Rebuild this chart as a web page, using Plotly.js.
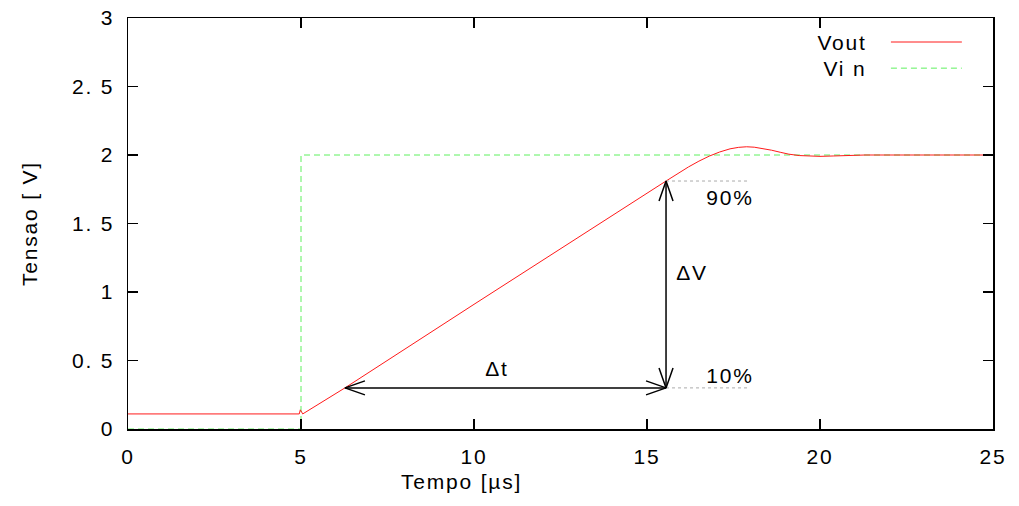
<!DOCTYPE html>
<html>
<head>
<meta charset="utf-8">
<script src="https://cdn.plot.ly/plotly-3.0.1.min.js"></script>
<style>html,body{margin:0;padding:0;background:#fff;}#chart{width:1019px;height:506px;}
#chart svg text{letter-spacing:1.8px;}</style>
</head>
<body>
<div id="chart"></div>
<script>
// ---- data ----
const voutT = [0, 4.95, 4.98, 5.03, 5.05, 6.27, 10.0, 15.55, 15.9, 16.2, 16.5, 16.8, 17.1, 17.4, 17.65, 17.88, 18.1, 18.35, 18.6, 18.85, 19.1, 19.4, 19.7, 20.0, 20.4, 20.8, 21.3, 25];
const voutV = [0.11, 0.11, 0.14, 0.11, 0.11, 0.30, 0.91, 1.81, 1.866, 1.913, 1.955, 1.992, 2.022, 2.045, 2.056, 2.06, 2.057, 2.048, 2.035, 2.02, 2.006, 1.996, 1.991, 1.99, 1.993, 1.997, 2.0, 2.0];
const vinT = [0, 5, 5, 25];
const vinV = [0, 0, 2, 2];
const xTicks = [0, 5, 10, 15, 20, 25];
const xTickText = ["0", "5", "10", "15", "20", "25"];
const yTicks = [0, 0.5, 1, 1.5, 2, 2.5, 3];
const yTickText = ["0", "0. 5", "1", "1. 5", "2", "2. 5", "3"];
const seriesNames = ["Vout", "Vi n"];
const xTitle = "Tempo [µs]";
const yTitle = "Tensao [ V]";
// rise-time markers
const tStart = 6.27, tEnd = 15.55;
const v10 = 0.30, v90 = 1.81;
const dotEnd = 17.9;
const labels = [
  {text: "90%", x: 17.4, y: 1.69},
  {text: "10%", x: 17.4, y: 0.39},
  {text: "ΔV", x: 16.3, y: 1.14},
  {text: "Δt", x: 10.66, y: 0.44}
];

// ---- geometry helpers ----
const W = 1019, H = 506;
const M = {l: 128, r: 26, t: 18, b: 77};
const xr = [0, 25], yr = [0, 3];
const pxX = (W - M.l - M.r) / (xr[1] - xr[0]);
const pxY = (H - M.t - M.b) / (yr[1] - yr[0]);
const headLen = 20, headHalf = 7;

function chevron(tipX, tipY, dirX, dirY) {
  // dir: unit direction of the arrow in screen units, y up
  const bx = -dirX * headLen, by = -dirY * headLen;
  const nx = -dirY * headHalf, ny = dirX * headHalf;
  return {
    x: [tipX + (bx + nx) / pxX, tipX, tipX + (bx - nx) / pxX],
    y: [tipY + (by + ny) / pxY, tipY, tipY + (by - ny) / pxY]
  };
}

const arrowStyle = {color: '#000', width: 1.5};
const traces = [];
traces.push({x: vinT, y: vinV, mode: 'lines', name: seriesNames[1], line: {color: '#5ef05e', width: 1, dash: '6px,4px'}, showlegend: false, hoverinfo: 'skip'});
traces.push({x: voutT, y: voutV, mode: 'lines', name: seriesNames[0], line: {color: '#ff1a1a', width: 1}, showlegend: false, hoverinfo: 'skip'});
// dotted guide lines
traces.push({x: [tEnd, dotEnd], y: [v90, v90], mode: 'lines', line: {color: '#aaa', width: 1, dash: 'dot'}, showlegend: false, hoverinfo: 'skip'});
traces.push({x: [tEnd, dotEnd], y: [v10, v10], mode: 'lines', line: {color: '#aaa', width: 1, dash: 'dot'}, showlegend: false, hoverinfo: 'skip'});
// arrows
traces.push({x: [tStart, tEnd], y: [v10, v10], mode: 'lines', line: arrowStyle, showlegend: false, hoverinfo: 'skip'});
traces.push({x: [tEnd, tEnd], y: [v10, v90], mode: 'lines', line: arrowStyle, showlegend: false, hoverinfo: 'skip'});
[chevron(tStart, v10, -1, 0), chevron(tEnd, v10, 1, 0), chevron(tEnd, v90, 0, 1), chevron(tEnd, v10, 0, -1)].forEach(c => {
  traces.push({x: c.x, y: c.y, mode: 'lines', line: arrowStyle, showlegend: false, hoverinfo: 'skip'});
});

const font = {family: 'Liberation Sans, Arial, sans-serif', size: 21, color: '#000'};
const annotations = labels.map(l => ({x: l.x, y: l.y, xref: 'x', yref: 'y', text: l.text, showarrow: false, font: font, xanchor: 'center', yanchor: 'middle'}));
// x axis title (gnuplot places it left of the plot centre)
annotations.push({x: 0.386, y: -0.128, xref: 'paper', yref: 'paper', text: xTitle, showarrow: false, font: font, xanchor: 'center', yanchor: 'middle'});
// legend texts (manual, gnuplot style)
const legendColors = ['#ff1a1a', '#5ef05e'];
const legendDash = ['solid', '6px,4px'];
const legendY = [0.9416, 0.878];
const shapes = [];
seriesNames.forEach((n, i) => {
  annotations.push({x: 0.852, y: legendY[i], xref: 'paper', yref: 'paper', text: n, showarrow: false, font: font, xanchor: 'right', yanchor: 'middle'});
  shapes.push({type: 'line', xref: 'paper', yref: 'paper', x0: 0.882, x1: 0.964, y0: legendY[i], y1: legendY[i], line: {color: legendColors[i], width: 1, dash: legendDash[i]}});
});

const axisCommon = {showgrid: false, zeroline: false, showline: true, linecolor: '#000', linewidth: 1.5, mirror: 'allticks', ticks: 'inside', ticklen: 10, tickwidth: 1.5, tickcolor: '#000', tickfont: font};
const layout = {
  width: W, height: H,
  margin: M,
  paper_bgcolor: '#fff', plot_bgcolor: '#fff',
  showlegend: false,
  font: font,
  xaxis: Object.assign({}, axisCommon, {range: xr, tickvals: xTicks, ticktext: xTickText, ticklabelstandoff: 8}),
  yaxis: Object.assign({}, axisCommon, {range: yr, tickvals: yTicks, ticktext: yTickText, ticklabelstandoff: 8, title: {text: yTitle, font: font, standoff: 36}}),
  annotations: annotations,
  shapes: shapes
};
Plotly.newPlot('chart', traces, layout, {staticPlot: true});
</script>
</body>
</html>
